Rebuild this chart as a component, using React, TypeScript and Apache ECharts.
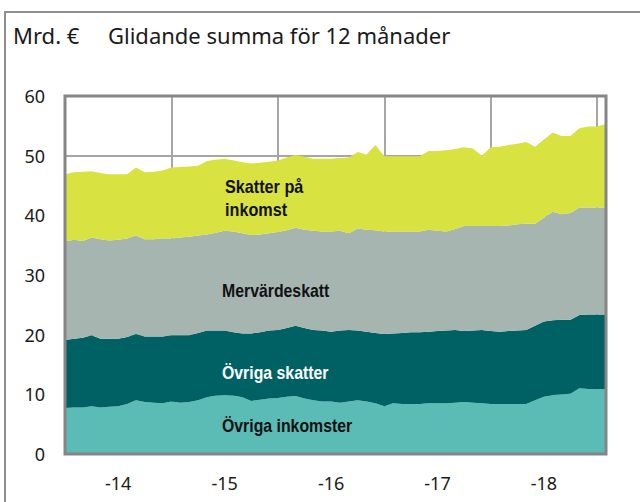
import React, { useEffect, useRef } from "react";
import * as echarts from "echarts";

// Monthly rolling 12-month sums, Jan 2014 .. Feb 2019 (62 points), billion €
const ovrigaInkomster = [
  7.7, 7.8, 7.8, 8.0, 7.8, 7.9, 8.0, 8.4, 9.0, 8.7, 8.6, 8.5,
  8.8, 8.6, 8.7, 9.0, 9.5, 9.8, 9.9, 9.8, 9.5, 8.9, 9.1, 9.3,
  9.4, 9.6, 9.7, 9.3, 9.0, 8.8, 8.8, 8.6, 8.8, 9.0, 8.8, 8.5,
  8.0, 8.5, 8.4, 8.4, 8.4, 8.5, 8.5, 8.5, 8.6, 8.7, 8.6, 8.5,
  8.4, 8.4, 8.4, 8.4, 8.4, 9.0, 9.6, 9.9, 10.0, 10.1, 11.0, 10.9,
  10.9, 10.9,
];
const ovrigaSkatter = [
  11.4, 11.5, 11.7, 11.9, 11.5, 11.4, 11.3, 11.2, 11.1, 11.0, 11.1, 11.2,
  11.1, 11.3, 11.2, 11.3, 11.2, 10.9, 10.8, 10.6, 10.7, 11.3, 11.3, 11.4,
  11.4, 11.5, 11.8, 11.8, 11.8, 11.9, 11.7, 12.1, 12.0, 11.7, 11.7, 11.8,
  12.1, 11.7, 11.9, 12.0, 12.0, 12.0, 12.1, 12.2, 12.2, 11.9, 12.1, 12.3,
  12.2, 12.1, 12.2, 12.3, 12.4, 12.5, 12.6, 12.5, 12.5, 12.4, 12.3, 12.5,
  12.5, 12.5,
];
const mervardeskatt = [
  16.5, 16.6, 16.2, 16.4, 16.7, 16.5, 16.6, 16.5, 16.5, 16.3, 16.3, 16.4,
  16.2, 16.4, 16.5, 16.3, 16.1, 16.4, 16.7, 16.9, 16.8, 16.5, 16.4, 16.3,
  16.4, 16.4, 16.4, 16.5, 16.6, 16.6, 16.8, 16.7, 16.2, 17.1, 17.1, 17.2,
  17.2, 17.1, 17.0, 16.9, 16.9, 17.1, 16.8, 16.6, 16.9, 17.6, 17.5, 17.4,
  17.6, 17.7, 17.7, 17.8, 17.8, 17.1, 17.4, 18.2, 17.7, 17.9, 18.0, 17.9,
  17.9, 17.9,
];
const skatterPaInkomst = [
  11.3, 11.3, 11.6, 11.1, 11.1, 11.1, 11.0, 10.8, 11.4, 11.2, 11.3, 11.4,
  11.9, 11.8, 11.8, 11.7, 12.3, 12.2, 12.1, 11.9, 11.9, 12.0, 12.0, 12.0,
  12.0, 12.2, 12.2, 12.2, 12.1, 12.2, 12.2, 12.2, 12.7, 12.8, 12.6, 14.3,
  12.6, 12.6, 12.6, 12.6, 12.6, 13.2, 13.4, 13.6, 13.4, 13.2, 13.0, 11.8,
  13.2, 13.3, 13.5, 13.5, 13.7, 12.9, 13.1, 13.3, 13.1, 12.9, 13.3, 13.6,
  13.6, 14.0,
];

const yearLabels = ["-14", "-15", "-16", "-17", "-18"];
const yTicks = [0, 10, 20, 30, 40, 50, 60];
const seriesNames = ["Övriga inkomster", "Övriga skatter", "Mervärdeskatt", "Skatter på inkomst"];
const titleUnit = "Mrd. €";
const titleText = "Glidande summa för 12 månader";

const months: string[] = [];
for (let y = 2014; y <= 2019; y++) {
  for (let m = 1; m <= 12; m++) {
    if (months.length < ovrigaInkomster.length) months.push(`${y}-${String(m).padStart(2, "0")}`);
  }
}

const COLORS = ["#5bbbb5", "#006164", "#a7b5b1", "#d8e241"];

const GRID = { left: 65, top: 96, right: 34, bottom: 48 };
const W = 640;
const H = 502;

export default function App() {
  const ref = useRef<HTMLDivElement>(null);
  useEffect(() => {
    if (!ref.current) return;
    const chart = echarts.init(ref.current, undefined, { renderer: "svg" });
    const dataSets = [ovrigaInkomster, ovrigaSkatter, mervardeskatt, skatterPaInkomst];
    const labelFont = "'Liberation Sans', Arial, sans-serif";
    chart.setOption({
      animation: false,
      backgroundColor: "#ffffff",
      grid: { ...GRID, containLabel: false },
      xAxis: {
        type: "category",
        boundaryGap: false,
        data: months,
        axisLine: { show: false },
        axisTick: { show: false },
        axisLabel: {
          interval: (idx: number) => idx % 12 === 6,
          formatter: (_v: string, idx: number) => yearLabels[(idx - 6) / 12] ?? "",
          color: "#1a1a1a",
          fontSize: 18,
          fontFamily: "'Noto Sans', sans-serif",
          margin: 20,
        },
        splitLine: {
          show: true,
          interval: (idx: number) => idx % 12 === 0 && idx > 0,
          lineStyle: { color: "#a6a6a6", width: 2 },
        },
      },
      yAxis: {
        type: "value",
        min: yTicks[0],
        max: yTicks[yTicks.length - 1],
        interval: 10,
        axisLine: { show: false },
        axisTick: { show: false },
        axisLabel: {
          color: "#1a1a1a",
          fontSize: 18,
          fontFamily: "'Noto Sans', sans-serif",
          margin: 20,
        },
        splitLine: { show: true, lineStyle: { color: "#a6a6a6", width: 2 } },
      },
      series: dataSets.map((d, i) => ({
        name: seriesNames[i],
        type: "line",
        stack: "total",
        data: d,
        showSymbol: false,
        symbol: "none",
        lineStyle: { width: 0 },
        itemStyle: { color: COLORS[i] },
        areaStyle: { color: COLORS[i], opacity: 1 },
      })),
      graphic: [
        {
          type: "rect",
          shape: { x: 5, y: 12, width: 700, height: 600 },
          style: { fill: "none", stroke: "#8f8f8f", lineWidth: 2 },
          z: 0,
          silent: true,
        },
        {
          type: "rect",
          shape: {
            x: GRID.left,
            y: GRID.top,
            width: W - GRID.left - GRID.right,
            height: H - GRID.top - GRID.bottom,
          },
          style: { fill: "none", stroke: "#858585", lineWidth: 3 },
          z: 100,
          silent: true,
        },
        {
          type: "text",
          left: 13,
          top: 24,
          style: { text: titleUnit, fontSize: 22, fontFamily: "'Noto Sans', sans-serif", fill: "#1a1a1a" },
        },
        {
          type: "text",
          left: 108,
          top: 24,
          style: { text: titleText, fontSize: 22, fontFamily: "'Noto Sans', sans-serif", fill: "#1a1a1a" },
        },
        {
          type: "text",
          x: 225,
          y: 176,
          scaleX: 0.9,
          z: 110,
          style: {
            text: "Skatter på\ninkomst",
            fontSize: 18,
            lineHeight: 23,
            fontWeight: "bold",
            fontFamily: labelFont,
            fill: "#111111",
          },
        },
        {
          type: "text",
          x: 222,
          y: 282,
          scaleX: 0.88,
          z: 110,
          style: { text: "Mervärdeskatt", fontSize: 18, fontWeight: "bold", fontFamily: labelFont, fill: "#111111" },
        },
        {
          type: "text",
          x: 222,
          y: 364,
          scaleX: 0.88,
          z: 110,
          style: { text: "Övriga skatter", fontSize: 18, fontWeight: "bold", fontFamily: labelFont, fill: "#ffffff" },
        },
        {
          type: "text",
          x: 222,
          y: 417,
          scaleX: 0.88,
          z: 110,
          style: { text: "Övriga inkomster", fontSize: 18, fontWeight: "bold", fontFamily: labelFont, fill: "#111111" },
        },
      ],
    });
    return () => chart.dispose();
  }, []);
  return <div ref={ref} style={{ position: "absolute", left: 0, top: 0, width: W, height: H }} />;
}
